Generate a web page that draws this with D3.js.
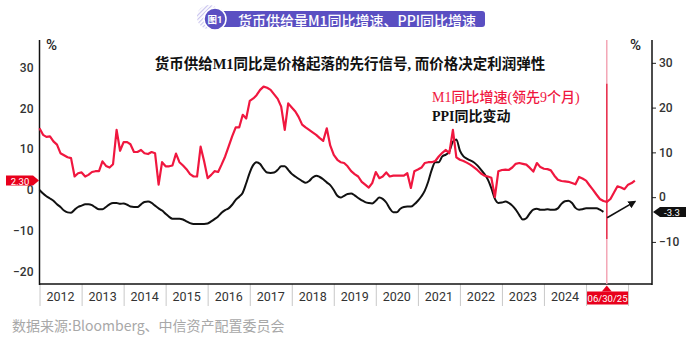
<!DOCTYPE html>
<html>
<head>
<meta charset="utf-8">
<script src="https://cdn.jsdelivr.net/npm/d3@7"></script>
<style>
body { margin: 0; background: #fff; }
svg { display: block; font-family: Roboto, "Noto Sans CJK SC", sans-serif; }
</style>
</head>
<body>
<svg id="chart" width="700" height="344"></svg>
<script>
// M1 yoy (%), actual months Apr 2011 - Jun 2025, drawn 9 months ahead
const m1Start = new Date(2011, 3, 1);
const m1Lead = 9;
const m1Values = [
15.1, 13.5, 13.0, 13.1, 11.9, 11.1, 9.0, 8.5, 8.0, 7.8, 3.3, 4.1,
4.3, 3.3, 3.7, 4.4, 4.6, 4.6, 7.0, 5.9, 5.5, 6.3, 14.7, 9.6,
11.7, 11.7, 11.2, 9.3, 9.3, 9.8, 9.0, 8.8, 9.3, 9.0, 1.3, 6.8,
5.8, 5.8, 6.0, 8.9, 6.8, 6.0, 5.1, 3.9, 3.3, 3.3, 10.6, 7.1,
2.9, 3.7, 4.6, 4.4, 6.2, 8.2, 10.6, 13.1, 15.3, 15.3, 18.4, 17.5,
21.8, 22.4, 23.2, 24.5, 25.3, 25.0, 24.5, 23.4, 22.3, 20.4, 14.7, 21.2,
20.2, 19.2, 17.9, 16.0, 15.3, 14.7, 14.1, 13.5, 12.7, 12.0, 15.1, 10.9,
8.6, 7.4, 6.8, 6.6, 5.8, 4.6, 3.9, 3.3, 2.0, 1.3, 0.6, 1.7,
4.4, 2.9, 3.3, 4.3, 3.3, 3.5, 3.5, 3.5, 3.5, 4.1, 0.5, 4.6,
5.0, 5.5, 6.6, 6.8, 6.8, 7.1, 8.2, 9.1, 9.8, 9.0, 14.7, 8.0,
7.4, 7.1, 6.7, 6.2, 5.6, 4.9, 4.1, 3.5, 3.3, 3.0, -1.7, 4.6,
4.9, 5.0, 4.9, 5.5, 6.4, 6.6, 6.4, 6.2, 5.4, 4.5, 6.6, 5.6,
5.2, 5.1, 4.8, 3.5, 2.5, 2.2, 2.1, 2.0, 1.7, 1.4, 3.2, 2.8,
2.3, 1.1, 0.1, -1.1, -2.2, -2.7, -2.9, -2.2, -0.6, 0.9, 0.6, 0.2,
1.3, 1.7, 2.3
];

// PPI yoy (%), Jan 2012 - Jun 2025
const ppiStart = new Date(2012, 0, 1);
const ppiValues = [
1.6, 0.8, 0.2, -0.3, -0.8, -1.6, -2.2, -3.0, -3.4, -3.5, -2.8, -2.2,
-1.9, -1.6, -1.6, -1.8, -2.3, -2.7, -2.7, -2.2, -1.6, -1.3, -1.3, -1.5,
-1.4, -1.7, -2.1, -2.2, -2.2, -1.6, -1.1, -1.0, -1.3, -1.9, -2.5, -3.0,
-3.7, -4.4, -4.8, -4.8, -4.8, -5.0, -5.4, -5.8, -6.0, -6.0, -6.0, -6.0,
-5.9, -5.4, -4.9, -4.3, -3.5, -2.9, -2.5, -1.7, -0.6, 0.1, 1.0, 3.1,
5.5, 7.2, 7.8, 7.4, 6.3, 5.5, 5.4, 5.5, 6.1, 6.9, 6.9, 6.1,
5.2, 4.6, 4.1, 3.6, 3.2, 3.6, 4.4, 4.8, 4.5, 4.0, 3.3, 2.7,
1.6, 0.3, -0.1, 0.3, 0.7, 0.8, 0.4, -0.2, -0.7, -1.1, -1.3, -1.4,
-0.8, -0.1, -0.4, -1.2, -2.5, -3.4, -3.4, -2.6, -2.2, -2.1, -2.1, -1.6,
-0.8, 0.2, 1.4, 3.5, 6.1, 7.8, 7.8, 9.1, 9.5, 10.2, 12.4, 12.9,
10.4, 9.1, 8.6, 8.2, 7.8, 7.1, 6.2, 5.2, 3.9, 2.0, -0.4, -1.3,
-1.2, -1.0, -1.3, -1.9, -2.8, -4.0, -5.0, -4.7, -3.6, -2.8, -2.6, -2.8,
-2.8, -2.7, -2.8, -2.8, -2.5, -1.5, -0.9, -0.8, -1.3, -2.4, -2.8, -2.7,
-2.5, -2.5, -2.5, -2.5, -2.8, -3.3
];

const years = d3.range(2012, 2027);
const yearLabels = d3.range(2012, 2025);
const leftTicks = [-20, -10, 0, 10, 20, 30];
const rightTicks = [-10, 0, 10, 20, 30];
const cutDate = new Date(2025, 5, 30);
const cutLabel = "06/30/25";
const m1Last = "2.30";
const ppiLast = "-3.3";
const trendArrow = [{ date: new Date(2025, 6, 3), v: -4.6 }, { date: new Date(2026, 2, 1), v: -1.0 }];

const title = "货币供给量M1同比增速、PPI同比增速";
const subtitle = "货币供给M1同比是价格起落的先行信号, 而价格决定利润弹性";
const legendM1 = "M1同比增速(领先9个月)";
const legendPPI = "PPI同比变动";
const source = "数据来源:Bloomberg、中信资产配置委员会";

const RED = "#f0173f";
const pLeft = 39.5, pRight = 652, pTop = 40, pBottom = 284;

const m1 = m1Values.map((v, i) => ({ date: d3.timeMonth.offset(m1Start, i + m1Lead), v }));
const ppi = ppiValues.map((v, i) => ({ date: d3.timeMonth.offset(ppiStart, i), v }));

const svg = d3.select("#chart");

const x = d3.scaleTime()
  .domain([new Date(2012, 0, 1), new Date(2026, 6, 28)])
  .range([pLeft, pRight]);
const yL = d3.scaleLinear().domain([-23, 36.7]).range([pBottom, pTop]);
const yR = d3.scaleLinear().domain([-19.4, 35.1]).range([pBottom, pTop]);

// title badge
const defs = svg.append("defs");
const pat = defs.append("pattern").attr("id", "hatch")
  .attr("width", 3).attr("height", 3).attr("patternUnits", "userSpaceOnUse")
  .attr("patternTransform", "rotate(45)");
pat.append("rect").attr("width", 1.2).attr("height", 3).attr("fill", "#c9c4ee");
defs.append("marker").attr("id", "arrowhead")
  .attr("viewBox", "0 0 10 10").attr("refX", 8).attr("refY", 5)
  .attr("markerWidth", 5).attr("markerHeight", 5).attr("orient", "auto")
  .append("path").attr("d", "M0,0L10,5L0,10z").attr("fill", "#111");

svg.append("circle").attr("cx", 209).attr("cy", 17).attr("r", 12).attr("fill", "url(#hatch)");
svg.append("path")
  .attr("d", "M222,11H482a3,3 0 0 1 3,3V24a3,3 0 0 1 -3,3H222Z")
  .attr("fill", "#5a4fc2");
svg.append("circle").attr("cx", 215).attr("cy", 19).attr("r", 11)
  .attr("fill", "#5a4fc2").attr("stroke", "#fff").attr("stroke-width", 1.5);
svg.append("text").attr("x", 215).attr("y", 19.5)
  .attr("text-anchor", "middle").attr("dominant-baseline", "central")
  .attr("fill", "#fff").attr("font-size", 9.5).attr("font-weight", "bold")
  .text("图1");
svg.append("text").attr("x", 238).attr("y", 19.5)
  .attr("dominant-baseline", "central")
  .attr("fill", "#fff").attr("font-size", 14).attr("font-weight", 500)
  .attr("font-family", "'Noto Sans CJK SC', 'Noto Sans', sans-serif")
  .text(title);

// year bands under the axis
svg.append("g")
  .attr("transform", `translate(0,${pBottom})`)
  .call(d3.axisBottom(x).tickValues(years.map(y => new Date(y, 0, 1))).tickSize(22).tickFormat(""))
  .call(g => g.select(".domain").remove())
  .call(g => g.selectAll(".tick line").attr("stroke", "#c8c8c8"));

svg.append("g").selectAll("text")
  .data(yearLabels)
  .join("text")
  .attr("x", d => (x(new Date(d, 0, 1)) + x(new Date(d + 1, 0, 1))) / 2)
  .attr("y", 296)
  .attr("text-anchor", "middle").attr("dominant-baseline", "central")
  .attr("font-size", 12.5).attr("fill", "#333")
  .text(d => d);

// date marker box
const cx = x(cutDate);
svg.append("rect")
  .attr("x", x(new Date(2025, 0, 1)) + 1).attr("y", 291.5)
  .attr("width", x(new Date(2026, 0, 1)) - x(new Date(2025, 0, 1)) - 1).attr("height", 13)
  .attr("fill", "#e8001c");
svg.append("path")
  .attr("d", `M${cx - 5},291.5L${cx},285.5L${cx + 5},291.5Z`)
  .attr("fill", "#e8001c");
svg.append("text")
  .attr("x", (x(new Date(2025, 0, 1)) + x(new Date(2026, 0, 1))) / 2 + 0.5).attr("y", 298.5)
  .attr("text-anchor", "middle").attr("dominant-baseline", "central")
  .attr("font-size", 9.5).attr("fill", "#fff")
  .text(cutLabel);

// left axis
svg.append("g")
  .attr("transform", `translate(${pLeft},0)`)
  .call(d3.axisLeft(yL).tickValues(leftTicks).tickSize(0).tickPadding(6))
  .call(g => g.select(".domain").remove())
  .call(g => g.selectAll("text").attr("font-size", 12).attr("fill", "#333")
    .attr("font-weight", 500).attr("font-family", "Roboto, sans-serif"));

// right axis
svg.append("g")
  .attr("transform", `translate(${pRight},0)`)
  .call(d3.axisRight(yR).tickValues(rightTicks).tickSize(4).tickPadding(3))
  .call(g => g.select(".domain").remove())
  .call(g => g.selectAll("line").attr("stroke", "#222"))
  .call(g => g.selectAll("text").attr("font-size", 12).attr("fill", "#333")
    .attr("font-weight", 500).attr("font-family", "Roboto, sans-serif"));

// frame lines
svg.append("line").attr("x1", pLeft).attr("x2", pLeft).attr("y1", pTop).attr("y2", pBottom + 1)
  .attr("stroke", "#111").attr("stroke-width", 1.5);
svg.append("line").attr("x1", pRight).attr("x2", pRight).attr("y1", pTop).attr("y2", pBottom + 1)
  .attr("stroke", "#111").attr("stroke-width", 1.5);
svg.append("line").attr("x1", pLeft).attr("x2", pRight).attr("y1", pBottom).attr("y2", pBottom)
  .attr("stroke", "#111").attr("stroke-width", 1.5);

svg.append("text").attr("x", 46).attr("y", 45).attr("dominant-baseline", "central")
  .attr("font-size", 15).attr("font-weight", 500).attr("fill", "#222").text("%");
svg.append("text").attr("x", 630).attr("y", 45).attr("dominant-baseline", "central")
  .attr("font-size", 15).attr("font-weight", 500).attr("fill", "#222").text("%");

// cut-off date line
svg.append("line").attr("x1", cx).attr("x2", cx).attr("y1", pTop).attr("y2", pBottom)
  .attr("stroke", "#f3a7b6").attr("stroke-width", 1.5);
svg.append("line").attr("x1", cx).attr("x2", cx).attr("y1", yL(26)).attr("y2", yL(-12))
  .attr("stroke", "#e8334f").attr("stroke-width", 1.5);

// series
const lineM1 = d3.line().x(d => x(d.date)).y(d => yL(d.v));
const linePPI = d3.line().x(d => x(d.date)).y(d => yR(d.v)).curve(d3.curveMonotoneX);

svg.append("path").datum(ppi)
  .attr("d", linePPI).attr("fill", "none")
  .attr("stroke", "#111").attr("stroke-width", 2).attr("stroke-linejoin", "round");
svg.append("path").datum(m1)
  .attr("d", lineM1).attr("fill", "none")
  .attr("stroke", RED).attr("stroke-width", 2.2).attr("stroke-linejoin", "round");

// trend arrow
svg.append("line")
  .attr("x1", x(trendArrow[0].date)).attr("y1", yR(trendArrow[0].v))
  .attr("x2", x(trendArrow[1].date)).attr("y2", yR(trendArrow[1].v))
  .attr("stroke", "#111").attr("stroke-width", 1.6)
  .attr("marker-end", "url(#arrowhead)");

// last value tags
const ym = yL(+m1Last);
svg.append("path")
  .attr("d", `M6,${ym - 5}H33L39,${ym}L33,${ym + 5}H6Z`)
  .attr("fill", "#e8001c");
svg.append("text").attr("x", 20).attr("y", ym + 0.5)
  .attr("text-anchor", "middle").attr("dominant-baseline", "central")
  .attr("font-size", 9.5).attr("fill", "#fff").text(m1Last);

const yp = yR(+ppiLast);
svg.append("path")
  .attr("d", `M${pRight + 1},${yp}L${pRight + 8},${yp - 5}H686V${yp + 5}H${pRight + 8}Z`)
  .attr("fill", "#111");
svg.append("text").attr("x", 672).attr("y", yp + 0.5)
  .attr("text-anchor", "middle").attr("dominant-baseline", "central")
  .attr("font-size", 9.5).attr("fill", "#fff").text(ppiLast);

// annotations
svg.append("text").attr("x", 350).attr("y", 64)
  .attr("text-anchor", "middle").attr("dominant-baseline", "central")
  .attr("font-size", 14.5).attr("font-weight", "bold").attr("fill", "#111")
  .attr("font-family", "'Liberation Serif', 'Noto Sans CJK SC', serif")
  .text(subtitle);
svg.append("text").attr("x", 432).attr("y", 97)
  .attr("dominant-baseline", "central")
  .attr("font-size", 14).attr("font-weight", 500).attr("fill", RED)
  .attr("font-family", "'Liberation Serif', 'Noto Sans CJK SC', serif")
  .text(legendM1);
svg.append("text").attr("x", 432).attr("y", 116)
  .attr("dominant-baseline", "central")
  .attr("font-size", 14).attr("font-weight", "bold").attr("fill", "#111")
  .attr("font-family", "'Liberation Serif', 'Noto Sans CJK SC', serif")
  .text(legendPPI);

// source
svg.append("text").attr("x", 12).attr("y", 325)
  .attr("dominant-baseline", "central")
  .attr("font-size", 14).attr("fill", "#a8a8a8")
  .attr("font-family", "'Noto Sans CJK SC', sans-serif")
  .text(source);
</script>
</body>
</html>
